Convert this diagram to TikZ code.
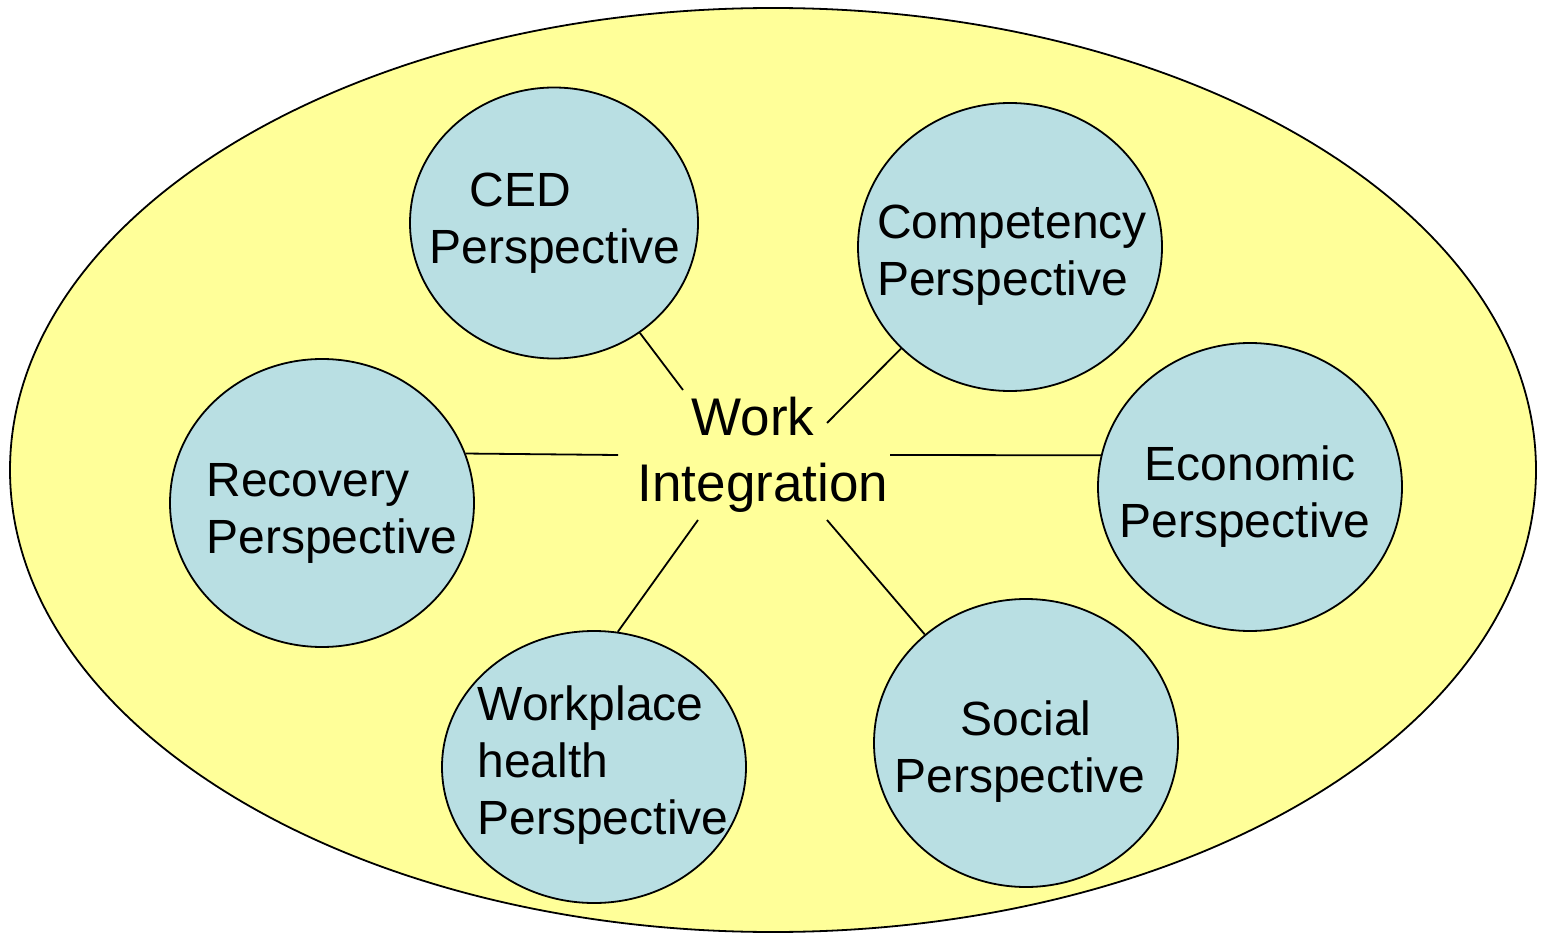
\documentclass[tikz,border=0pt]{standalone}
\usepackage{fontspec}
\setmainfont{Liberation Sans}
\usetikzlibrary{shapes.geometric}
\definecolor{bgyellow}{RGB}{255,255,153}
\definecolor{circblue}{RGB}{185,223,227}
\tikzset{
  persp/.style={ellipse, draw=black, line width=1.8pt, fill=circblue,
    inner sep=0pt},
  persptext/.style={inner sep=0pt, font=\fontsize{48}{57}\selectfont},
  spoke/.style={draw=black, line width=1.8pt}
}

\begin{document}
\begin{tikzpicture}[x=1pt,y=-1pt]
\useasboundingbox (0,0) rectangle (1542,933);
% outer field
\draw[line width=1.8pt, fill=bgyellow] (773,470) ellipse[x radius=763, y radius=462];
% the six perspectives
\node[persp, minimum width=288pt, minimum height=271pt] (ced) at (554,223) {};
\node[persp, minimum width=304pt, minimum height=288pt] (comp) at (1010,247) {};
\node[persp, minimum width=304pt, minimum height=288pt] (recov) at (322,503) {};
\node[persp, minimum width=304pt, minimum height=288pt] (econ) at (1250,487) {};
\node[persp, minimum width=304pt, minimum height=272pt] (workpl) at (594,767) {};
\node[persp, minimum width=304pt, minimum height=288pt] (social) at (1026,743) {};
% their labels
\node[persptext, align=left] (ced-t) at ([xshift=1pt]ced) {\hspace*{40pt}CED\\Perspective};
\node[persptext, align=left] (comp-t) at ([xshift=2pt,yshift=-8pt]comp) {Competency\\Perspective};
\node[persptext, align=left] (recov-t) at ([xshift=10pt,yshift=-10pt]recov) {Recovery\\Perspective};
\node[persptext, align=center] (econ-t) at ([xshift=-5pt,yshift=-10pt]econ) {\hspace*{10pt}Economic\\Perspective};
\node[persptext, align=left] (workpl-t) at ([xshift=9pt,yshift=2pt]workpl) {Workplace\\health\\Perspective};
\node[persptext, align=center] (social-t) at ([xshift=-6pt,yshift=-9pt]social) {\hspace*{12pt}Social\\Perspective};
% centre
\node[align=center, inner sep=0pt, font=\fontsize{53}{66}\selectfont]
  (wi) at (763,455) {Work\hspace*{20pt}\\Integration};
\coordinate (wi-ced) at (683,390);
\coordinate (wi-comp) at (827,423);
\coordinate (wi-recov) at (618,455);
\coordinate (wi-econ) at (890,455);
\coordinate (wi-workpl) at (698,520);
\coordinate (wi-social) at (827,520);
% spokes
\foreach \n/\a in {ced/-52, comp/-137, recov/19, econ/168, workpl/80, social/133}
  \draw[spoke] (\n.\a) -- (wi-\n);
\end{tikzpicture}
\end{document}
